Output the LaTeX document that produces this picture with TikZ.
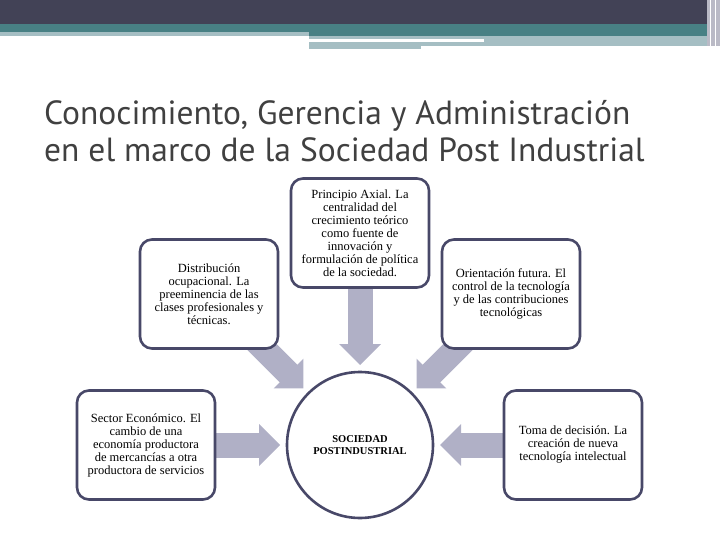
\documentclass[tikz,border=0pt]{standalone}
\usepackage{fontspec}
\setmainfont{Liberation Serif}
\newfontfamily\titlefont{PT Sans}
\usetikzlibrary{positioning, calc, backgrounds}

\definecolor{barDark}{RGB}{66,66,86}
\definecolor{barTeal}{RGB}{72,128,132}
\definecolor{barLight}{RGB}{165,190,195}
\definecolor{barSide}{RGB}{186,186,198}
\definecolor{boxBorder}{RGB}{72,72,104}
\definecolor{arrowFill}{RGB}{176,176,198}
\definecolor{titleGray}{RGB}{64,64,64}

\begin{document}
\begin{tikzpicture}[
			x=1pt,
			y=-1pt,
			on grid,
			idea/.style={
				draw=boxBorder,
				rectangle,
				rounded corners=12pt,
				line width=2.6pt,
				minimum width=138pt,
				minimum height=109pt,
				align=center,
				fill=white,
				font=\fontsize{12.5}{13}\selectfont
			},
			core/.style={
				draw=boxBorder,
				circle,
				line width=2.6pt,
				minimum size=146pt,
				outer sep=0pt,
				fill=white,
				align=center,
				font=\bfseries\fontsize{10.5}{12}\selectfont
			},
			titletext/.style={
				anchor=base west,
				inner sep=0pt,
				text=titleGray,
				font=\titlefont\fontsize{33.5}{40}\selectfont
			},
			shaft/.style={
				draw=arrowFill,
				line width=25pt
			},
			head/.style={
				fill=arrowFill
			}
			]
			\useasboundingbox (0,0) rectangle (720,540);
			% Header bars
			\fill[barDark] (0,0) rectangle (720,24);
			\fill[barTeal] (0,24) rectangle (720,32);
			\fill[barLight] (0,32) rectangle (309,36);
			\fill[barTeal] (309,32) rectangle (707,36);
			\fill[barLight] (309,36) rectangle (707,46);
			\fill[white] (309,39) rectangle (484,42);
			\fill[barLight] (309,46) rectangle (421,49);
			\fill[barSide] (707,0) rectangle (720,46);
			\draw[white, line width=0.8pt] (710,0) -- (710,46);
			\draw[white, line width=0.8pt] (715,0) -- (715,46);

			% Title
			\node[titletext] (title1) at (44,125) {Conocimiento, Gerencia y Administración};
			\node[titletext] (title2) at (44,162) {en el marco de la Sociedad Post Industrial};

			% Nodes
			\node[core] (society) at (360,445) {SOCIEDAD\\POSTINDUSTRIAL};
			\node[idea, above=212pt of society] (principio) {Principio Axial. La\\centralidad del\\crecimiento teórico\\como fuente de\\innovación y\\formulación de política\\de la sociedad.};
			\node[idea, above left=151pt and 151pt of society] (distrib) {Distribución\\ocupacional. La\\preeminencia de las\\clases profesionales y\\técnicas.};
			\node[idea, above right=151pt and 151pt of society] (orient) {Orientación futura. El\\control de la tecnología\\y de las contribuciones\\tecnológicas};
			\node[idea, left=214pt of society] (sector) {Sector Económico. El\\cambio de una\\economía productora\\de mercancías a otra\\productora de servicios};
			\node[idea, right=213pt of society] (toma) {Toma de decisión. La\\creación de nueva\\tecnología intelectual};

			% Arrows
			\begin{scope}[on background layer]
				\foreach \src in {principio, distrib, orient, sector, toma} {
					\draw[shaft] (\src.center) -- ($(society)!100pt!(\src)$);
					\fill[head] ($(society)!80pt!(\src)$)
						-- ($(society)!101pt!(\src)!21pt!90:(\src)$)
						-- ($(society)!101pt!(\src)!21pt!-90:(\src)$)
						-- cycle;
				}
			\end{scope}
		\end{tikzpicture}
\end{document}
